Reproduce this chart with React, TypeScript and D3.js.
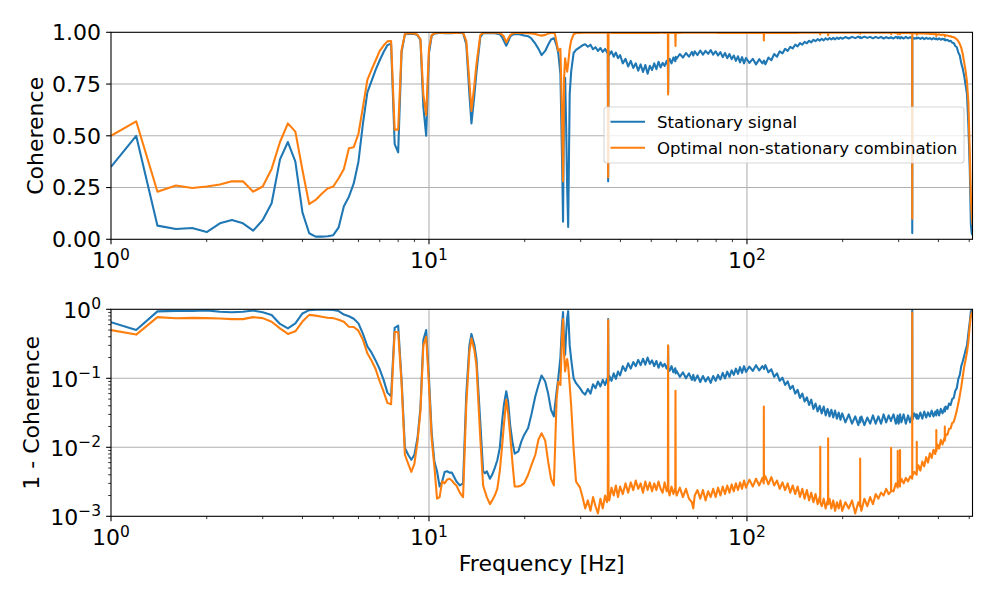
import * as d3 from "d3";

// ── Data ──────────────────────────────────────────────────────
// Shared frequency grid (Hz); series are stored as 1 - coherence.
const FREQ_HZ = [
  1.0, 1.2, 1.4, 1.6, 1.8, 2.0, 2.2, 2.4, 2.6, 2.8,
  3.0, 3.2, 3.4, 3.6, 3.8, 4.0, 4.2, 4.4, 4.6, 4.8,
  5.0, 5.2, 5.4, 5.6, 5.8, 6.0, 6.2, 6.4, 6.6, 6.8,
  7.0, 7.2, 7.4, 7.6, 7.8, 8.0, 8.2, 8.4, 8.6, 8.8,
  9.0, 9.2, 9.4, 9.6, 9.8, 10.0, 10.2, 10.4, 10.6, 10.8,
  11.0, 11.2, 11.4, 11.6, 11.8, 12.0, 12.2, 12.5, 12.8, 13.1,
  13.4, 13.6, 13.9, 14.1, 14.5, 14.8, 15.0, 15.2, 15.55, 15.8,
  16.1, 16.4, 16.7, 17.0, 17.2, 17.5, 17.75, 18.0, 18.3, 18.6,
  19.1, 19.5, 19.9, 20.5, 21.0, 21.6, 22.1, 22.6, 23.2, 23.7,
  24.2, 24.7, 24.9, 25.2, 25.5, 25.9, 26.2, 26.4, 26.6, 26.8,
  27.0, 27.2, 27.4, 27.7, 28.0, 28.5, 29.0, 29.85, 30.4, 31.0,
  31.6, 32.2, 32.8, 33.4, 34.0, 34.6, 35.2, 35.8, 36.3, 36.5,
  36.6, 36.7, 36.9, 37.5, 38.1, 38.7, 39.3, 39.9, 40.7, 41.5,
  42.3, 43.1, 43.9, 44.7, 45.5, 46.3, 47.1, 47.9, 48.7, 49.5,
  50.3, 51.1, 51.9, 52.7, 53.5, 54.3, 55.1, 55.9, 56.4, 56.5,
  56.6, 57.1, 57.9, 58.7, 59.5, 59.6, 59.7, 60.1, 61.5, 62.9,
  64.3, 65.7, 67.1, 67.8, 68.5, 69.9, 71.3, 72.7, 74.1, 75.5,
  76.9, 78.3, 79.7, 81.1, 82.5, 83.9, 85.3, 86.7, 88.1, 89.5,
  90.9, 92.3, 93.7, 95.1, 96.5, 97.9, 99.3, 101.8, 104.3, 106.8,
  109.3, 111.8, 112.9, 113.0, 113.1, 114.3, 116.8, 119.3, 121.8, 124.3,
  126.8, 129.3, 131.8, 134.3, 136.8, 139.3, 141.8, 144.3, 146.8, 149.3,
  151.8, 154.3, 156.8, 159.3, 161.8, 164.3, 166.8, 169.3, 169.9, 170.0,
  170.1, 171.8, 174.3, 176.8, 179.3, 179.9, 180.0, 180.1, 181.8, 184.3,
  186.8, 189.3, 191.8, 194.3, 196.8, 199.3, 204, 209, 214, 219,
  224, 226.9, 227.0, 227.1, 229, 234, 239, 244, 249, 254,
  259, 264, 269, 274, 279, 283.9, 284.0, 284.1, 289, 294,
  297.9, 298.0, 298.1, 300, 302.9, 303.0, 303.1, 306, 311, 316,
  321, 326, 330.9, 331.0, 331.1, 336, 341.9, 342.0, 342.1, 346,
  351, 356, 361, 366, 371, 376, 381, 386, 391, 393.9,
  394.0, 394.1, 397, 402, 407, 412, 418.9, 419.0, 419.1, 422,
  427, 432, 437, 442, 447, 452, 457, 462, 467, 472,
  477, 482, 487, 492, 497, 502, 506, 509, 512,
];

const STATIONARY = [
  0.65, 0.50, 0.934, 0.95, 0.945, 0.965, 0.923, 0.907, 0.923, 0.958,
  0.907, 0.826, 0.614, 0.53, 0.625, 0.87, 0.971, 0.987, 0.987, 0.985,
  0.98, 0.942, 0.84, 0.794, 0.73, 0.625, 0.44, 0.29, 0.235, 0.18,
  0.135, 0.095, 0.062, 0.055, 0.54, 0.58, 0.095, 0.0098, 0.0078, 0.0066,
  0.0078, 0.0135, 0.037, 0.36, 0.50, 0.10, 0.016, 0.0062, 0.0045, 0.0027,
  0.0032, 0.0044, 0.0045, 0.0043, 0.0043, 0.0037, 0.0032, 0.0028, 0.0030, 0.058,
  0.30, 0.44, 0.30, 0.195, 0.023, 0.0045, 0.0042, 0.0045, 0.0035, 0.0040,
  0.0050, 0.0065, 0.0098, 0.025, 0.041, 0.065, 0.045, 0.021, 0.012, 0.0081,
  0.0087, 0.012, 0.015, 0.019, 0.030, 0.055, 0.080, 0.11, 0.09, 0.060,
  0.035, 0.028, 0.040, 0.065, 0.10, 0.20, 0.60, 0.915, 0.30, 0.22,
  0.45, 0.75, 0.94, 0.30, 0.19, 0.10, 0.085, 0.072, 0.063, 0.058,
  0.070, 0.060, 0.082, 0.072, 0.090, 0.076, 0.095, 0.080, 0.098, 0.085,
  0.72, 0.090, 0.108, 0.092, 0.118, 0.098, 0.125, 0.110, 0.150, 0.128,
  0.165, 0.138, 0.172, 0.150, 0.185, 0.155, 0.192, 0.158, 0.200, 0.162,
  0.182, 0.150, 0.178, 0.142, 0.170, 0.148, 0.162, 0.138, 0.158, 0.29,
  0.140, 0.128, 0.150, 0.122, 0.140, 0.130, 0.118, 0.128, 0.105, 0.122,
  0.100, 0.118, 0.095, 0.112, 0.092, 0.110, 0.088, 0.108, 0.090, 0.104,
  0.086, 0.108, 0.092, 0.112, 0.096, 0.120, 0.100, 0.125, 0.105, 0.130,
  0.112, 0.138, 0.116, 0.145, 0.120, 0.150, 0.124, 0.148, 0.128, 0.155,
  0.130, 0.150, 0.140, 0.138, 0.136, 0.155, 0.122, 0.135, 0.105, 0.118,
  0.092, 0.102, 0.080, 0.090, 0.070, 0.078, 0.060, 0.068, 0.052, 0.060,
  0.046, 0.053, 0.041, 0.049, 0.036, 0.043, 0.033, 0.040, 0.037, 0.036,
  0.037, 0.031, 0.039, 0.029, 0.036, 0.033, 0.033, 0.034, 0.028, 0.035,
  0.027, 0.034, 0.026, 0.032, 0.025, 0.031, 0.023, 0.030, 0.022, 0.028,
  0.021, 0.027, 0.025, 0.023, 0.028, 0.021, 0.027, 0.022, 0.029, 0.022,
  0.028, 0.022, 0.030, 0.023, 0.029, 0.024, 0.026, 0.025, 0.030, 0.022,
  0.029, 0.027, 0.024, 0.022, 0.029, 0.027, 0.030, 0.023, 0.030, 0.022,
  0.029, 0.023, 0.030, 0.97, 0.025, 0.031, 0.026, 0.028, 0.030, 0.026,
  0.032, 0.026, 0.033, 0.027, 0.032, 0.028, 0.034, 0.028, 0.033, 0.029,
  0.031, 0.030, 0.035, 0.029, 0.036, 0.031, 0.038, 0.036, 0.033, 0.039,
  0.036, 0.043, 0.041, 0.050, 0.052, 0.066, 0.072, 0.098, 0.112, 0.150,
  0.175, 0.210, 0.255, 0.30, 0.45, 0.66, 0.93, 0.97, 0.98,
];

const OPTIMAL = [
  0.50, 0.43, 0.77, 0.74, 0.752, 0.745, 0.735, 0.72, 0.72, 0.77,
  0.745, 0.66, 0.53, 0.44, 0.48, 0.665, 0.83, 0.81, 0.78, 0.755,
  0.745, 0.705, 0.66, 0.56, 0.555, 0.49, 0.36, 0.23, 0.18, 0.135,
  0.09, 0.064, 0.044, 0.042, 0.47, 0.47, 0.085, 0.0078, 0.0058, 0.0044,
  0.0058, 0.012, 0.033, 0.30, 0.40, 0.08, 0.013, 0.0052, 0.0018, 0.0019,
  0.0032, 0.0030, 0.0034, 0.0035, 0.0033, 0.0030, 0.0028, 0.0022, 0.0019, 0.041,
  0.24, 0.38, 0.25, 0.155, 0.0135, 0.0028, 0.0023, 0.0019, 0.0015, 0.0017,
  0.0020, 0.0025, 0.0045, 0.011, 0.021, 0.049, 0.030, 0.015, 0.0060, 0.0027,
  0.0027, 0.0028, 0.0030, 0.0040, 0.0055, 0.0078, 0.013, 0.016, 0.0125, 0.0062,
  0.0035, 0.0028, 0.0087, 0.050, 0.089, 0.080, 0.40, 0.72, 0.22, 0.126,
  0.16, 0.19, 0.15, 0.080, 0.040, 0.0095, 0.0032, 0.0026, 0.0019, 0.0013,
  0.0017, 0.0012, 0.0019, 0.0014, 0.0011, 0.0018, 0.0013, 0.0020, 0.0016, 0.0020,
  0.70, 0.0021, 0.0017, 0.0026, 0.0020, 0.0028, 0.0019, 0.0027, 0.0021, 0.0030,
  0.0022, 0.0031, 0.0024, 0.0033, 0.0025, 0.0030, 0.0022, 0.0032, 0.0024, 0.0031,
  0.0023, 0.0030, 0.0024, 0.0032, 0.0025, 0.0022, 0.0031, 0.0023, 0.0025, 0.30,
  0.0024, 0.0020, 0.0027, 0.0021, 0.0026, 0.066, 0.0024, 0.0020, 0.0026, 0.0019,
  0.0025, 0.0018, 0.0016, 0.0013, 0.0020, 0.0024, 0.0018, 0.0024, 0.0017, 0.0023,
  0.0019, 0.0025, 0.0019, 0.0026, 0.0020, 0.0027, 0.0021, 0.0028, 0.0022, 0.0029,
  0.0023, 0.0030, 0.0024, 0.0031, 0.0025, 0.0033, 0.0026, 0.0034, 0.0027, 0.0035,
  0.0028, 0.0036, 0.0030, 0.039, 0.0033, 0.0038, 0.0029, 0.0037, 0.0028, 0.0033,
  0.0025, 0.0031, 0.0024, 0.0030, 0.0022, 0.0028, 0.0021, 0.0027, 0.0019, 0.0025,
  0.0018, 0.0024, 0.0017, 0.0022, 0.0016, 0.0021, 0.0015, 0.0019, 0.0017, 0.0102,
  0.0016, 0.0014, 0.0018, 0.0013, 0.0017, 0.0015, 0.0135, 0.0015, 0.0018, 0.0013,
  0.0017, 0.0012, 0.0016, 0.0013, 0.0017, 0.0012, 0.0016, 0.0013, 0.0017, 0.0011,
  0.0016, 0.0014, 0.0069, 0.0015, 0.0012, 0.0018, 0.0014, 0.0019, 0.0015, 0.0021,
  0.0018, 0.0022, 0.0020, 0.0025, 0.0021, 0.0023, 0.0098, 0.0024, 0.0023, 0.0030,
  0.0026, 0.0089, 0.0028, 0.0032, 0.0027, 0.0091, 0.0030, 0.0035, 0.0030, 0.0036,
  0.0032, 0.0038, 0.0035, 0.90, 0.0038, 0.0044, 0.0040, 0.012, 0.0044, 0.0055,
  0.0046, 0.0062, 0.0053, 0.0072, 0.0060, 0.0082, 0.0070, 0.0092, 0.0080, 0.0100,
  0.0178, 0.0088, 0.0110, 0.0096, 0.0128, 0.0110, 0.0142, 0.020, 0.0125, 0.0155,
  0.0152, 0.0185, 0.0188, 0.0225, 0.0232, 0.028, 0.034, 0.043, 0.056, 0.075,
  0.105, 0.145, 0.185, 0.24, 0.34, 0.58, 0.80, 0.88, 0.93,
];

const SERIES = [
  { name: "Stationary signal", values: STATIONARY, color: "#1f77b4" },
  { name: "Optimal non-stationary combination", values: OPTIMAL, color: "#ff7f0e" },
];

const X_TICKS = [1, 10, 100];
const X_TICK_EXP = ["0", "1", "2"];
const TOP_Y_TICKS = [0, 0.25, 0.5, 0.75, 1];
const TOP_Y_LABELS = ["0.00", "0.25", "0.50", "0.75", "1.00"];
const BOT_Y_TICKS = [1e-3, 1e-2, 1e-1, 1];
const BOT_Y_EXP = ["\u22123", "\u22122", "\u22121", "0"];

// ── Layout (matplotlib 10x6 in @ 100 dpi) ─────────────────────
const W = 1000;
const H = 600;
const LEFT = 111;
const RIGHT = 972.5;
const TOP_AX = { top: 32.3, bottom: 239.3 };
const BOT_AX = { top: 309.3, bottom: 516.3 };
const FONT = "DejaVu Sans, sans-serif";
const TICK_FS = 22;
const SUP_FS = 15.5;
const GRID = "#b0b0b0";
const MAJOR = 4.9;
const MINOR = 2.8;

const x = d3.scaleLog().domain([1, 512]).range([LEFT, RIGHT]);
const yTop = d3.scaleLinear().domain([0, 1]).range([TOP_AX.bottom, TOP_AX.top]);
const yBot = d3.scaleLog().domain([1e-3, 1]).range([BOT_AX.bottom, BOT_AX.top]);

const isPow10 = (v: number) => Math.abs(Math.log10(v) - Math.round(Math.log10(v))) < 1e-9;
const xMinor = x.ticks().filter((t) => !isPow10(t) && t < 512);
const yMinor = yBot.ticks().filter((t) => !isPow10(t));

const n = Math.min(FREQ_HZ.length, STATIONARY.length, OPTIMAL.length);

function linePath(values: number[], yFn: (v: number) => number) {
  const idx = d3.range(n);
  return (
    d3
      .line<number>()
      .x((i) => x(FREQ_HZ[i]))
      .y((i) => yFn(values[i]))(idx) ?? ""
  );
}

function XAxis({ bottom }: { bottom: number }) {
  return (
    <g>
      {X_TICKS.map((t) => (
        <line key={"M" + t} x1={x(t)} x2={x(t)} y1={bottom} y2={bottom + MAJOR} stroke="#000" strokeWidth={1.1} />
      ))}
      {xMinor.map((t) => (
        <line key={"m" + t} x1={x(t)} x2={x(t)} y1={bottom} y2={bottom + MINOR} stroke="#000" strokeWidth={0.8} />
      ))}
      {X_TICKS.map((t, i) => (
        <text key={"L" + t} x={x(t)} y={bottom + 29} textAnchor="middle" fontSize={TICK_FS} fontFamily={FONT}>
          <tspan>10</tspan>
          <tspan dy={-8.5} fontSize={SUP_FS}>{X_TICK_EXP[i]}</tspan>
        </text>
      ))}
    </g>
  );
}

export default function App() {
  return (
    <svg
      width={W}
      height={H}
      viewBox={`0 0 ${W} ${H}`}
      style={{ position: "absolute", left: 0, top: 0, background: "#fff" }}
    >
      <defs>
        <clipPath id="clipTop">
          <rect x={LEFT} y={TOP_AX.top} width={RIGHT - LEFT} height={TOP_AX.bottom - TOP_AX.top} />
        </clipPath>
        <clipPath id="clipBot">
          <rect x={LEFT} y={BOT_AX.top} width={RIGHT - LEFT} height={BOT_AX.bottom - BOT_AX.top} />
        </clipPath>
      </defs>
      <rect width={W} height={H} fill="#fff" />

      {/* ── Top panel: coherence ── */}
      <g>
        {TOP_Y_TICKS.slice(1, -1).map((t) => (
          <line key={t} x1={LEFT} x2={RIGHT} y1={yTop(t)} y2={yTop(t)} stroke={GRID} strokeWidth={1.1} />
        ))}
        {X_TICKS.slice(1).map((t) => (
          <line key={t} x1={x(t)} x2={x(t)} y1={TOP_AX.top} y2={TOP_AX.bottom} stroke={GRID} strokeWidth={1.1} />
        ))}
        <g clipPath="url(#clipTop)">
          {SERIES.map((s) => (
            <path
              key={s.name}
              d={linePath(s.values, (v) => yTop(1 - v))}
              fill="none"
              stroke={s.color}
              strokeWidth={2.08}
              strokeLinejoin="round"
            />
          ))}
        </g>
        <rect x={LEFT} y={TOP_AX.top} width={RIGHT - LEFT} height={TOP_AX.bottom - TOP_AX.top} fill="none" stroke="#000" strokeWidth={1.1} />
        {TOP_Y_TICKS.map((t, i) => (
          <g key={t}>
            <line x1={LEFT - MAJOR} x2={LEFT} y1={yTop(t)} y2={yTop(t)} stroke="#000" strokeWidth={1.1} />
            <text x={LEFT - 10} y={yTop(t) + 7.8} textAnchor="end" fontSize={TICK_FS} fontFamily={FONT}>
              {TOP_Y_LABELS[i]}
            </text>
          </g>
        ))}
        <XAxis bottom={TOP_AX.bottom} />
        <text
          transform={`translate(43, ${(TOP_AX.top + TOP_AX.bottom) / 2}) rotate(-90)`}
          textAnchor="middle"
          fontSize={22}
          fontFamily={FONT}
        >
          Coherence
        </text>

        {/* Legend */}
        <g>
          <rect x={604} y={107} width={360} height={56} rx={3} fill="#fff" fillOpacity={0.8} stroke="#cccccc" strokeOpacity={0.8} strokeWidth={1.1} />
          {SERIES.map((s, i) => (
            <g key={s.name}>
              <line x1={610.5} x2={645} y1={121.7 + i * 26} y2={121.7 + i * 26} stroke={s.color} strokeWidth={2.08} />
              <text x={657} y={127.5 + i * 26} fontSize={16.6} fontFamily={FONT}>
                {s.name}
              </text>
            </g>
          ))}
        </g>
      </g>

      {/* ── Bottom panel: 1 - coherence ── */}
      <g>
        {BOT_Y_TICKS.slice(1, -1).map((t) => (
          <line key={t} x1={LEFT} x2={RIGHT} y1={yBot(t)} y2={yBot(t)} stroke={GRID} strokeWidth={1.1} />
        ))}
        {X_TICKS.slice(1).map((t) => (
          <line key={t} x1={x(t)} x2={x(t)} y1={BOT_AX.top} y2={BOT_AX.bottom} stroke={GRID} strokeWidth={1.1} />
        ))}
        <g clipPath="url(#clipBot)">
          {SERIES.map((s) => (
            <path
              key={s.name}
              d={linePath(s.values, (v) => yBot(v))}
              fill="none"
              stroke={s.color}
              strokeWidth={2.08}
              strokeLinejoin="round"
            />
          ))}
        </g>
        <rect x={LEFT} y={BOT_AX.top} width={RIGHT - LEFT} height={BOT_AX.bottom - BOT_AX.top} fill="none" stroke="#000" strokeWidth={1.1} />
        {yMinor.map((t) => (
          <line key={t} x1={LEFT - MINOR} x2={LEFT} y1={yBot(t)} y2={yBot(t)} stroke="#000" strokeWidth={0.8} />
        ))}
        {BOT_Y_TICKS.map((t, i) => (
          <g key={t}>
            <line x1={LEFT - MAJOR} x2={LEFT} y1={yBot(t)} y2={yBot(t)} stroke="#000" strokeWidth={1.1} />
            <text x={LEFT - 10} y={yBot(t) + 8.5} textAnchor="end" fontSize={TICK_FS} fontFamily={FONT}>
              <tspan>10</tspan>
              <tspan dy={-8.5} fontSize={SUP_FS}>{BOT_Y_EXP[i]}</tspan>
            </text>
          </g>
        ))}
        <XAxis bottom={BOT_AX.bottom} />
        <text
          transform={`translate(39, ${(BOT_AX.top + BOT_AX.bottom) / 2}) rotate(-90)`}
          textAnchor="middle"
          fontSize={22}
          fontFamily={FONT}
        >
          1 - Coherence
        </text>
        <text x={(LEFT + RIGHT) / 2} y={571} textAnchor="middle" fontSize={22} fontFamily={FONT}>
          Frequency [Hz]
        </text>
      </g>
    </svg>
  );
}
